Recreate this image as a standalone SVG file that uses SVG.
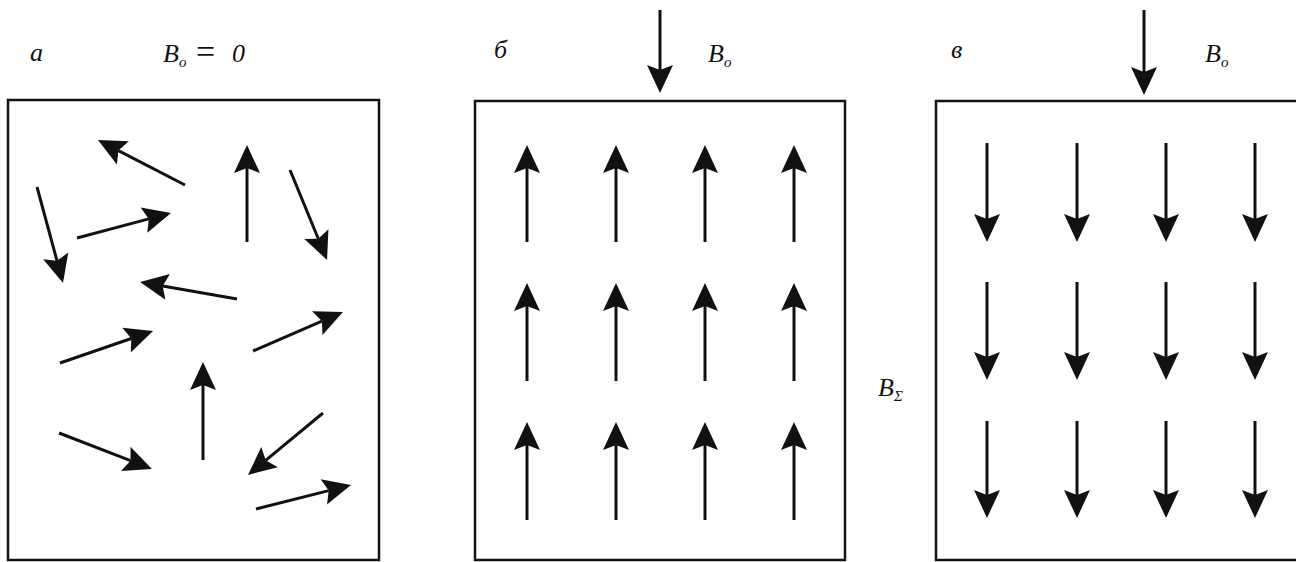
<svg xmlns="http://www.w3.org/2000/svg" width="1296" height="562" viewBox="0 0 1296 562">
<style>
.box{fill:none;stroke:#111;stroke-width:2.5}
.ar{stroke:#111;stroke-width:3;fill:none;marker-end:url(#h)}
.t{font-family:"Liberation Serif",serif;font-style:italic;font-size:26px;fill:#111}
.s{font-size:15px}
.eq{font-size:34px;font-style:normal}
</style>
<defs>
<marker id="h" markerUnits="userSpaceOnUse" markerWidth="30" markerHeight="28" refX="5" refY="13" orient="auto" overflow="visible">
<path d="M0,0 L28,13 L0,26 L5,13 Z" fill="#111"/>
</marker>
</defs>
<rect width="1296" height="562" fill="#fff"/>
<g id="panel-a">
<rect class="box" x="8" y="100" width="371" height="460"/>
<text class="t" x="30" y="61">a</text>
<text class="t" x="163" y="62">B<tspan class="s" x="179" dy="5">o</tspan><tspan class="eq" x="196" dy="-4">=</tspan><tspan x="232" dy="-1">0</tspan></text>
</g>
<g id="panel-b">
<rect class="box" x="475" y="101" width="370" height="459"/>
<text class="t" x="494" y="58">б</text>
<text class="t" x="708" y="62">B<tspan class="s" x="724" dy="5">o</tspan></text>
</g>
<g id="panel-c">
<rect class="box" x="936" y="101" width="400" height="459"/>
<text class="t" x="951" y="58">в</text>
<text class="t" x="1205" y="62">B<tspan class="s" x="1221" dy="5">o</tspan></text>
<text class="t" x="878" y="396">B<tspan class="s" x="894" dy="5">Σ</tspan></text>
</g>
<g id="connectors">
<line class="ar" x1="185" y1="185" x2="118.4" y2="150.6"/>
<line class="ar" x1="247" y1="242" x2="247" y2="168"/>
<line class="ar" x1="290" y1="170" x2="318.3" y2="238.7"/>
<line class="ar" x1="37" y1="187" x2="57" y2="260.8"/>
<line class="ar" x1="77" y1="238" x2="148.8" y2="218.9"/>
<line class="ar" x1="237" y1="299" x2="162.7" y2="286"/>
<line class="ar" x1="60" y1="363" x2="131.3" y2="338.5"/>
<line class="ar" x1="253" y1="351" x2="321.9" y2="321.1"/>
<line class="ar" x1="203" y1="460" x2="203" y2="385"/>
<line class="ar" x1="59" y1="433" x2="130.5" y2="460.7"/>
<line class="ar" x1="323" y1="413" x2="265.7" y2="460.3"/>
<line class="ar" x1="256" y1="509" x2="328.7" y2="490.6"/>
<line class="ar" x1="660" y1="10" x2="660" y2="70"/>
<line class="ar" x1="1144" y1="10" x2="1144" y2="72"/>
<line class="ar" x1="527" y1="242" x2="527" y2="168"/>
<line class="ar" x1="616" y1="242" x2="616" y2="168"/>
<line class="ar" x1="705" y1="242" x2="705" y2="168"/>
<line class="ar" x1="794" y1="242" x2="794" y2="168"/>
<line class="ar" x1="527" y1="381" x2="527" y2="306"/>
<line class="ar" x1="616" y1="381" x2="616" y2="306"/>
<line class="ar" x1="705" y1="381" x2="705" y2="306"/>
<line class="ar" x1="794" y1="381" x2="794" y2="306"/>
<line class="ar" x1="527" y1="520" x2="527" y2="445"/>
<line class="ar" x1="616" y1="520" x2="616" y2="445"/>
<line class="ar" x1="705" y1="520" x2="705" y2="445"/>
<line class="ar" x1="794" y1="520" x2="794" y2="445"/>
<line class="ar" x1="987" y1="143" x2="987" y2="219"/>
<line class="ar" x1="1077" y1="143" x2="1077" y2="219"/>
<line class="ar" x1="1166" y1="143" x2="1166" y2="219"/>
<line class="ar" x1="1255" y1="143" x2="1255" y2="219"/>
<line class="ar" x1="987" y1="282" x2="987" y2="357"/>
<line class="ar" x1="1077" y1="282" x2="1077" y2="357"/>
<line class="ar" x1="1166" y1="282" x2="1166" y2="357"/>
<line class="ar" x1="1255" y1="282" x2="1255" y2="357"/>
<line class="ar" x1="987" y1="421" x2="987" y2="495"/>
<line class="ar" x1="1077" y1="421" x2="1077" y2="495"/>
<line class="ar" x1="1166" y1="421" x2="1166" y2="495"/>
<line class="ar" x1="1255" y1="421" x2="1255" y2="495"/>
</g>
</svg>
